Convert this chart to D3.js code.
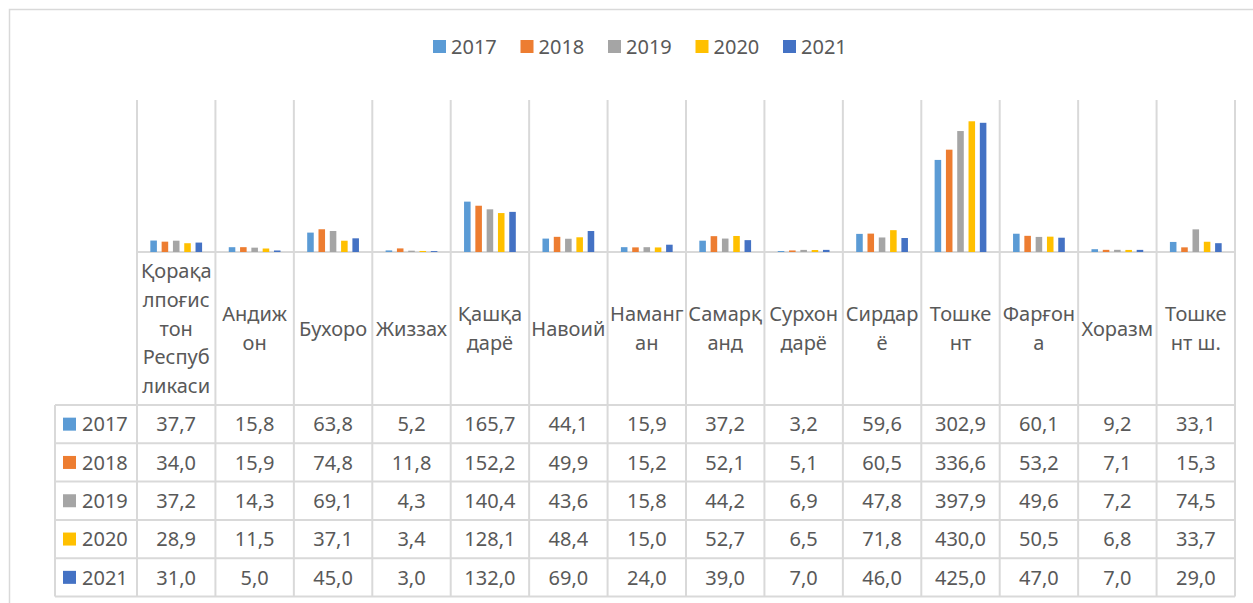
<!DOCTYPE html>
<html>
<head>
<meta charset="utf-8">
<script src="https://cdn.jsdelivr.net/npm/d3@7"></script>
<style>
  body { margin: 0; background: #fff; }
  svg { display: block; }
</style>
</head>
<body>
<svg id="chart" width="1253" height="603"></svg>
<script>
// regions, as the label cells wrap them
const regions = [
  ["Қорақа", "лпоғис", "тон", "Респуб", "ликаси"],
  ["Андиж", "он"],
  ["Бухоро"],
  ["Жиззах"],
  ["Қашқа", "дарё"],
  ["Навоий"],
  ["Наманг", "ан"],
  ["Самарқ", "анд"],
  ["Сурхон", "дарё"],
  ["Сирдар", "ё"],
  ["Тошке", "нт"],
  ["Фарғон", "а"],
  ["Хоразм"],
  ["Тошке", "нт ш."],
];

const years = ["2017", "2018", "2019", "2020", "2021"];
const colors = ["#5b9bd5", "#ed7d31", "#a5a5a5", "#ffc000", "#4472c4"];

const v2017 = [37.7, 15.8, 63.8, 5.2, 165.7, 44.1, 15.9, 37.2, 3.2, 59.6, 302.9, 60.1, 9.2, 33.1];
const v2018 = [34.0, 15.9, 74.8, 11.8, 152.2, 49.9, 15.2, 52.1, 5.1, 60.5, 336.6, 53.2, 7.1, 15.3];
const v2019 = [37.2, 14.3, 69.1, 4.3, 140.4, 43.6, 15.8, 44.2, 6.9, 47.8, 397.9, 49.6, 7.2, 74.5];
const v2020 = [28.9, 11.5, 37.1, 3.4, 128.1, 48.4, 15.0, 52.7, 6.5, 71.8, 430.0, 50.5, 6.8, 33.7];
const v2021 = [31.0, 5.0, 45.0, 3.0, 132.0, 69.0, 24.0, 39.0, 7.0, 46.0, 425.0, 47.0, 7.0, 29.0];
const series = [v2017, v2018, v2019, v2020, v2021];

const yMax = 500;

const layout = {
  left: 137, right: 1235,
  plotTop: 100, base: 252,
  labelBottom: 405, rowH: 38.3,
  tableLeft: 55,
};
const grid = "#d9d9d9";
const txtColor = "#595959";
const font = "'Noto Sans', 'Open Sans', sans-serif";
const fs = 20;

const svg = d3.select("#chart");

// outer chart frame (runs off the page at right and bottom)
svg.append("rect")
  .attr("x", 9.5).attr("y", 9.5)
  .attr("width", 1300).attr("height", 700)
  .attr("fill", "none").attr("stroke", grid).attr("stroke-width", 1.5);

const x = d3.scaleBand()
  .domain(d3.range(regions.length))
  .range([layout.left, layout.right]);

const xi = d3.scaleBand()
  .domain(years)
  .range([0, x.bandwidth()])
  .paddingInner(0.42)
  .paddingOuter(1.18);

const y = d3.scaleLinear().domain([0, yMax]).range([layout.base, layout.plotTop]);

const tableBottom = layout.labelBottom + layout.rowH * years.length;

// grid of the plot and the data table
const g = svg.append("g").attr("stroke", grid).attr("stroke-width", 2);
const bounds = d3.range(regions.length + 1).map((i) =>
  i < regions.length ? x(i) : layout.right
);
g.selectAll("line.v")
  .data(bounds)
  .join("line")
  .attr("x1", (d) => d).attr("x2", (d) => d)
  .attr("y1", layout.plotTop).attr("y2", tableBottom);
g.append("line")
  .attr("x1", layout.tableLeft).attr("x2", layout.tableLeft)
  .attr("y1", layout.labelBottom).attr("y2", tableBottom);
g.append("line")
  .attr("x1", layout.left).attr("x2", layout.right)
  .attr("y1", layout.base).attr("y2", layout.base);
g.selectAll("line.h")
  .data(d3.range(years.length + 1))
  .join("line")
  .attr("x1", layout.tableLeft).attr("x2", layout.right)
  .attr("y1", (i) => layout.labelBottom + i * layout.rowH)
  .attr("y2", (i) => layout.labelBottom + i * layout.rowH);

// bars
svg.append("g")
  .selectAll("g")
  .data(years)
  .join("g")
  .attr("fill", (d, i) => colors[i])
  .selectAll("rect")
  .data((yr, i) => series[i].map((v, j) => ({ yr, v, j })))
  .join("rect")
  .attr("x", (d) => x(d.j) + xi(d.yr))
  .attr("width", xi.bandwidth())
  .attr("y", (d) => y(d.v))
  .attr("height", (d) => y(0) - y(d.v));

// legend at the top
const legend = svg.append("g").attr("transform", "translate(433, 40)");
const item = legend.selectAll("g")
  .data(years)
  .join("g")
  .attr("transform", (d, i) => `translate(${i * 87.5}, 0)`);
item.append("rect").attr("width", 13).attr("height", 13)
  .attr("fill", (d, i) => colors[i]);
item.append("text")
  .attr("x", 18).attr("y", 7)
  .attr("dy", "0.36em")
  .attr("font-family", font).attr("font-size", fs)
  .attr("fill", txtColor)
  .text((d) => d);

// category labels
const lineH = 28.7;
const labelMid = (layout.base + layout.labelBottom) / 2;
svg.append("g")
  .selectAll("text")
  .data(regions)
  .join("text")
  .attr("font-family", font).attr("font-size", fs)
  .attr("fill", txtColor)
  .attr("text-anchor", "middle")
  .each(function (lines, i) {
    const t = d3.select(this);
    const y0 = labelMid - ((lines.length - 1) * lineH) / 2;
    lines.forEach((l, k) => {
      t.append("tspan")
        .attr("x", x(i) + x.bandwidth() / 2)
        .attr("y", y0 + k * lineH)
        .attr("dy", "0.36em")
        .text(l);
    });
  });

// data table rows
const rows = svg.append("g")
  .attr("font-family", font).attr("font-size", fs)
  .attr("fill", txtColor)
  .selectAll("g")
  .data(years)
  .join("g")
  .attr("transform", (d, i) =>
    `translate(0, ${layout.labelBottom + (i + 0.5) * layout.rowH})`);

rows.append("rect")
  .attr("x", 63).attr("y", -6.5)
  .attr("width", 13).attr("height", 13)
  .attr("fill", (d, i) => colors[i]);
rows.append("text")
  .attr("x", 82).attr("dy", "0.36em")
  .text((d) => d);
rows.selectAll("text.val")
  .data((yr, i) => series[i])
  .join("text")
  .attr("class", "val")
  .attr("x", (d, j) => x(j) + x.bandwidth() / 2)
  .attr("dy", "0.36em")
  .attr("text-anchor", "middle")
  .text((d) => d3.format(".1f")(d).replace(".", ","));
</script>
</body>
</html>
